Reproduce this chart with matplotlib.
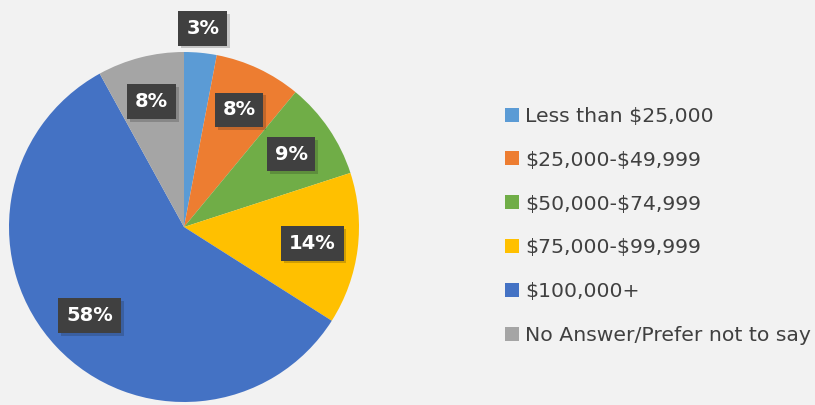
import matplotlib.pyplot as plt
import matplotlib.patheffects as pe
import numpy as np

plt.rcParams["text.parse_math"] = False

# income distribution
categories = ["Less than $25,000", "$25,000-$49,999", "$50,000-$74,999",
              "$75,000-$99,999", "$100,000+", "No Answer/Prefer not to say"]
shares = [3, 8, 9, 14, 58, 8]
colors = ["#5B9BD5", "#ED7D31", "#70AD47", "#FFC000", "#4472C4", "#A5A5A5"]

fig = plt.figure(figsize=(8.15, 4.05), dpi=100, facecolor="#F2F2F2")
ax = fig.add_axes([0, 0, 1, 1])
ax.set_facecolor("#F2F2F2")

wedges, texts, autotexts = ax.pie(shares, colors=colors, startangle=90, counterclock=False,
                                  center=(184, 178), radius=175,
                                  autopct="%d%%", pctdistance=0.74,
                                  wedgeprops=dict(linewidth=0),
                                  textprops=dict(color="white", fontsize=14, fontweight="bold"))
ax.set_xlim(0, 815)
ax.set_ylim(0, 405)
ax.set_aspect("equal")
ax.axis("off")

# small slice label sits outside the pie
w = wedges[0]
ang = np.deg2rad((w.theta1 + w.theta2) / 2)
autotexts[0].set_position((184 + 1.14 * 175 * np.cos(ang), 178 + 1.14 * 175 * np.sin(ang)))

for t in autotexts:
    t.set_bbox(dict(boxstyle="square,pad=0.4", facecolor="#404040", edgecolor="none",
                    path_effects=[pe.SimplePatchShadow(offset=(2, -2), alpha=0.2), pe.Normal()]))
    t.set_zorder(5)

leg = fig.legend(wedges, categories, loc="center left", bbox_to_anchor=(487 / 815, 1 - 226 / 405),
                 frameon=False, fontsize=14.7, labelspacing=1.22, handlelength=0.68,
                 handleheight=0.68, handletextpad=0.3, labelcolor="#404040")

fig.savefig("out.png", dpi=100, facecolor=fig.get_facecolor())
